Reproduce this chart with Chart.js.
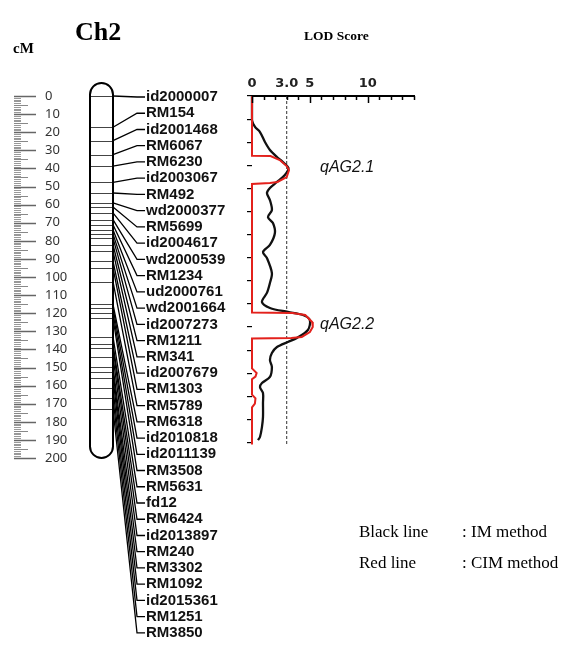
<!DOCTYPE html>
<html>
<head>
<meta charset="utf-8">
<script src="https://cdn.jsdelivr.net/npm/chart.js@4.4.0/dist/chart.umd.min.js"></script>
<style>
  html, body { margin: 0; padding: 0; background: #fff; }
  #wrap { width: 582px; height: 655px; }
</style>
</head>
<body>
<div id="wrap"><canvas id="lodChart" width="582" height="655"></canvas></div>
<script>
// Chromosome 2 markers (cM positions)
const markerNames = [
    'id2000007', 'RM154', 'id2001468', 'RM6067', 'RM6230', 'id2003067', 'RM492',
    'wd2000377', 'RM5699', 'id2004617', 'wd2000539', 'RM1234', 'ud2000761',
    'wd2001664', 'id2007273', 'RM1211', 'RM341', 'id2007679', 'RM1303', 'RM5789',
    'RM6318', 'id2010818', 'id2011139', 'RM3508', 'RM5631', 'fd12', 'RM6424',
    'id2013897', 'RM240', 'RM3302', 'RM1092', 'id2015361', 'RM1251', 'RM3850'
];
const markerCM = [
    0, 17.3, 24.7, 32.4, 38.8, 47.7, 53.6, 59.1, 61.3, 64.6, 68.3, 71.1, 73.9,
    76.2, 78.5, 82.2, 85.8, 91.3, 95.0, 102.6, 115.1, 117.0, 119.8, 122.8, 133.0,
    137.2, 139.4, 144.0, 149.6, 152.5, 156.0, 161.5, 166.7, 172.9
];

// IM method (black line)
const imCM = [
    0, 13.3, 17.1, 19.9, 25.4, 29.8, 33.7, 36.5, 39.8, 43.6, 47.5, 50.8, 53.6,
    57.5, 63.0, 66.9, 70.2, 75.7, 82.3, 86.2, 89.5, 97.8, 103.3, 108.8, 113.8,
    117.1, 119.3, 121.0, 123.8, 129.3, 133.7, 135.9, 138.7, 142.0, 145.9, 149.7,
    155.2, 158.6, 160.8, 164.1, 169.6, 177.3, 182.9, 188.4, 190.1
];
const imLOD = [
    0, 0, 0.26, 0.69, 1.12, 1.55, 2.16, 2.67, 3.15, 2.84, 2.16, 1.55, 1.29,
    1.55, 1.72, 1.38, 1.81, 1.98, 1.55, 0.95, 1.29, 1.72, 1.55, 1.29, 0.86,
    1.55, 3.10, 4.40, 5.0, 4.83, 3.88, 3.10, 2.16, 1.72, 1.55, 1.72,
    1.55, 0.86, 0.69, 0.95, 0.95, 0.95, 0.86, 0.69, 0.52
];

// CIM method (red line)
const cimCM = [
    0, 33.0, 33.2, 35.4, 38.7, 40.9, 44.8, 47.5, 48.1, 48.6, 119.6, 119.9, 121.0,
    124.9, 127.6, 130.4, 133.1, 133.7, 134.0, 150.5, 153.0, 155.0, 156.5, 165.0,
    167.0, 170.0, 172.0, 192.5
];
const cimLOD = [
    0, 0, 1.6, 2.4, 3.0, 3.2, 3.0, 2.2, 1.55, 0, 0, 3.5, 4.6,
    5.2, 5.25, 5.0, 4.3, 3.4, 0, 0, 0.4, 0.3, 0, 0,
    0.3, 0.25, 0, 0
];

const threshold = 3.0;
const profileEndCM = 192.5;
const lodTickValues = [0, 3, 5, 10];
const lodTickLabels = ['0', '3.0', '5', '10'];
const rulerLabels = [0, 10, 20, 30, 40, 50, 60, 70, 80, 90, 100, 110, 120, 130, 140, 150, 160, 170, 180, 190, 200];
const qtlNames = ['qAG2.1', 'qAG2.2'];
const qtlCM = [39.8, 126.5];

const toPoints = (cm, lod) => cm.map((c, i) => ({ x: lod[i], y: c }));

const mapDecor = {
    id: 'mapDecor',
    beforeDraw(chart) {
        const ctx = chart.ctx;
        ctx.save();
        ctx.fillStyle = '#fff';
        ctx.fillRect(0, 0, chart.width, chart.height);
        ctx.restore();
    },
    afterDraw(chart) {
        const ctx = chart.ctx;
        const y = chart.scales.y;
        const x = chart.scales.x;
        ctx.save();

        // cM ruler
        for (let c = 0; c <= 200; c++) {
            const py = Math.round(y.getPixelForValue(c)) + 0.5;
            let x2 = 21, col = '#999';
            if (c % 10 === 0) { x2 = 36; col = '#666'; }
            else if (c % 5 === 0) { x2 = 28; col = '#888'; }
            ctx.strokeStyle = col;
            ctx.lineWidth = c % 10 === 0 ? 1.5 : 1;
            ctx.beginPath();
            ctx.moveTo(14, py);
            ctx.lineTo(x2, py);
            ctx.stroke();
        }
        ctx.fillStyle = '#333';
        ctx.font = '13px "Noto Sans"';
        ctx.textBaseline = 'middle';
        ctx.textAlign = 'left';
        rulerLabels.forEach(v => ctx.fillText(String(v), 45, y.getPixelForValue(v)));

        // chromosome bar
        const bx = 90, bw = 23, r = bw / 2;
        const top = y.getPixelForValue(0) - 13;
        const bottom = y.getPixelForValue(200);
        ctx.strokeStyle = '#000';
        ctx.lineWidth = 2;
        ctx.beginPath();
        ctx.moveTo(bx, top + r);
        ctx.arc(bx + r, top + r, r, Math.PI, 0);
        ctx.lineTo(bx + bw, bottom - r);
        ctx.arc(bx + r, bottom - r, r, 0, Math.PI);
        ctx.closePath();
        ctx.stroke();

        ctx.strokeStyle = '#444';
        ctx.lineWidth = 1;
        markerCM.forEach(c => {
            const py = Math.round(y.getPixelForValue(c)) + 0.5;
            ctx.beginPath();
            ctx.moveTo(bx + 1, py);
            ctx.lineTo(bx + bw - 1, py);
            ctx.stroke();
        });

        // connectors + marker names
        const labelTop = 97, labelStep = 16.24;
        ctx.strokeStyle = '#000';
        ctx.lineWidth = 1.3;
        markerCM.forEach((c, i) => {
            const py = y.getPixelForValue(c);
            const ly = labelTop + i * labelStep;
            ctx.beginPath();
            ctx.moveTo(bx + bw, py);
            ctx.lineTo(137, ly);
            ctx.lineTo(145, ly);
            ctx.stroke();
        });
        ctx.fillStyle = '#111';
        ctx.font = 'bold 15px "Liberation Sans"';
        markerNames.forEach((n, i) => ctx.fillText(n, 146, labelTop + i * labelStep));

        // inward ticks on the LOD axis
        const axisY = x.bottom;
        ctx.strokeStyle = '#000';
        ctx.lineWidth = 1.5;
        for (let v = 0; v <= x.max; v++) {
            const px = Math.round(x.getPixelForValue(v)) + 0.5;
            const len = v % 5 === 0 ? 7 : 4;
            ctx.beginPath();
            ctx.moveTo(px, axisY);
            ctx.lineTo(px, axisY + len);
            ctx.stroke();
        }

        // QTL names
        ctx.fillStyle = '#111';
        ctx.font = 'italic 16px "Liberation Sans"';
        qtlNames.forEach((n, i) => ctx.fillText(n, 320, y.getPixelForValue(qtlCM[i])));

        // titles
        ctx.fillStyle = '#000';
        ctx.textBaseline = 'alphabetic';
        ctx.font = 'bold 26px "Liberation Serif"';
        ctx.fillText('Ch2', 75, 40);
        ctx.font = 'bold 15px "Liberation Serif"';
        ctx.fillText('cM', 13, 53);
        ctx.font = 'bold 13.5px "Liberation Serif"';
        ctx.fillText('LOD Score', 304, 40);

        // method legend
        ctx.font = '17px "Liberation Serif"';
        ctx.textBaseline = 'middle';
        ctx.fillText('Black line', 359, 533);
        ctx.fillText(': IM method', 462, 533);
        ctx.fillText('Red line', 359, 564);
        ctx.fillText(': CIM method', 462, 564);

        ctx.restore();
    }
};

new Chart(document.getElementById('lodChart'), {
    type: 'line',
    data: {
        datasets: [
            {
                label: 'CIM method',
                data: toPoints(cimCM, cimLOD),
                borderColor: '#e3211c',
                borderWidth: 2,
                pointRadius: 0,
                tension: 0,
                clip: 4
            },
            {
                label: 'IM method',
                data: toPoints(imCM, imLOD),
                borderColor: '#111',
                borderWidth: 2.3,
                pointRadius: 0,
                tension: 0.3,
                clip: 4
            },
            {
                label: 'Threshold',
                data: [{ x: threshold, y: 0 }, { x: threshold, y: profileEndCM }],
                borderColor: '#333',
                borderWidth: 1,
                borderDash: [3, 2],
                pointRadius: 0
            }
        ]
    },
    options: {
        responsive: false,
        animation: false,
        devicePixelRatio: 1,
        layout: { padding: { left: 252, right: 168, top: 66, bottom: 197 } },
        plugins: { legend: { display: false }, tooltip: { enabled: false } },
        scales: {
            x: {
                type: 'linear',
                position: 'top',
                min: 0,
                max: 14,
                afterBuildTicks: s => { s.ticks = lodTickValues.map(v => ({ value: v })); },
                afterFit: s => { s.height = 30; },
                ticks: {
                    callback: (v) => lodTickLabels[lodTickValues.indexOf(v)],
                    color: '#222',
                    padding: 5,
                    maxRotation: 0,
                    autoSkip: false,
                    font: { family: 'DejaVu Sans', weight: 'bold', size: 13 }
                },
                grid: { display: false, drawTicks: false },
                border: { display: true, color: '#000', width: 2 }
            },
            y: {
                type: 'linear',
                display: false,
                reverse: true,
                min: 0,
                max: 200
            },
            yTick: {
                type: 'linear',
                position: 'left',
                reverse: true,
                min: 0,
                max: 156.7,
                afterBuildTicks: s => { s.ticks = s.ticks.filter(t => t.value % 10 === 0 && t.value <= 150); },
                afterFit: s => { s.width = 0; },
                ticks: { display: false, stepSize: 10 },
                grid: { drawOnChartArea: false, tickLength: 5, color: '#000', lineWidth: 1.2 },
                border: { display: false }
            }
        }
    },
    plugins: [mapDecor]
});
</script>
</body>
</html>
